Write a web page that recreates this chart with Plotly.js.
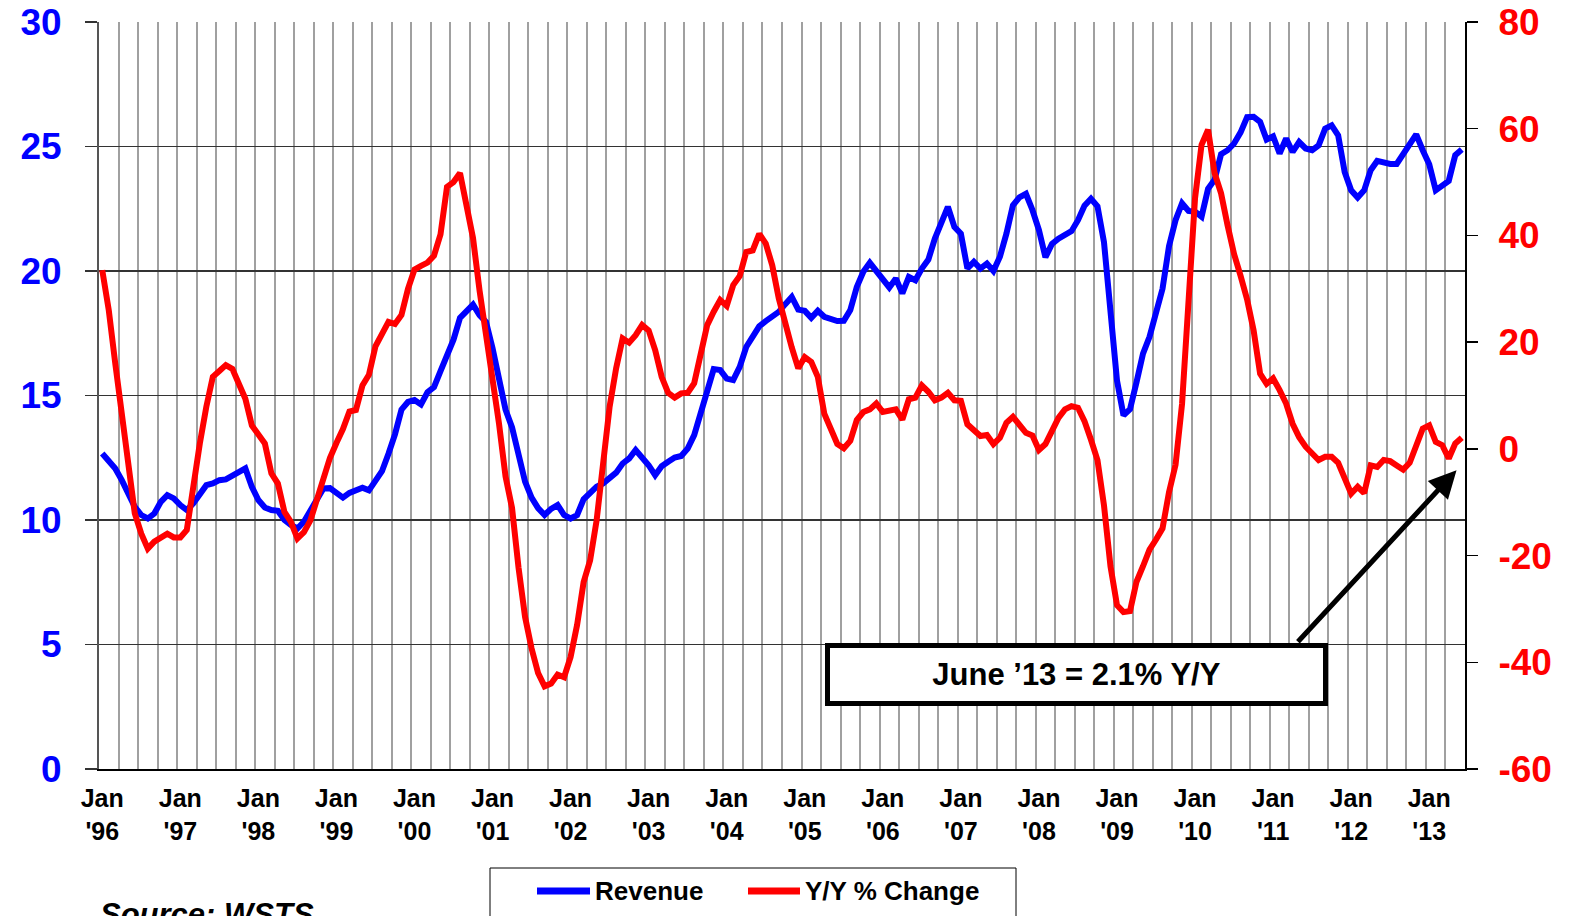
<!DOCTYPE html>
<html>
<head>
<meta charset="utf-8">
<script src="https://cdn.plot.ly/plotly-3.0.1.min.js"></script>
<style>
  html, body { margin: 0; padding: 0; background: #ffffff; }
  #chart { width: 1569px; height: 916px; }
</style>
</head>
<body>
<div id="chart"></div>
<script>
// ---- Data (monthly, Jan 1996 .. Jun 2013) ----
// Worldwide semiconductor revenue, $B (left axis)
const revenue = [
  12.67, 12.34, 12.07, 11.6, 11.07, 10.53, 10.2, 10.06, 10.26, 10.73, 11.0, 10.87,   // 1996
  10.6, 10.4, 10.67, 11.0, 11.4, 11.47, 11.6, 11.63, 11.8, 11.94, 12.07, 11.33,      // 1997
  10.8, 10.5, 10.4, 10.37, 10.0, 9.8, 9.66, 9.93, 10.4, 10.87, 11.27, 11.28,         // 1998
  11.07, 10.9, 11.09, 11.21, 11.3, 11.19, 11.54, 11.96, 12.66, 13.44, 14.43, 14.74,  // 1999
  14.82, 14.64, 15.13, 15.34, 15.98, 16.68, 17.24, 18.12, 18.4, 18.65, 18.23, 17.95, // 2000
  16.9, 15.69, 14.43, 13.72, 12.6, 11.54, 10.9, 10.48, 10.2, 10.45, 10.6, 10.2,      // 2001
  10.06, 10.2, 10.83, 11.07, 11.34, 11.47, 11.71, 11.9, 12.27, 12.47, 12.81, 12.54,  // 2002
  12.2, 11.8, 12.16, 12.34, 12.51, 12.57, 12.87, 13.41, 14.28, 15.28, 16.06, 16.02,  // 2003
  15.68, 15.62, 16.15, 16.95, 17.33, 17.78, 17.99, 18.16, 18.36, 18.67, 18.96, 18.45,// 2004
  18.4, 18.12, 18.4, 18.16, 18.05, 17.99, 18.0, 18.43, 19.36, 19.97, 20.33, 19.97,   // 2005
  19.7, 19.34, 19.7, 19.1, 19.76, 19.63, 20.1, 20.46, 21.3, 21.97, 22.58, 21.77,     // 2006
  21.5, 20.1, 20.37, 20.1, 20.3, 20.0, 20.57, 21.5, 22.64, 22.96, 23.1, 22.45,       // 2007
  21.64, 20.55, 21.09, 21.3, 21.46, 21.6, 22.04, 22.62, 22.9, 22.6, 21.16, 18.18,    // 2008
  15.6, 14.2, 14.45, 15.53, 16.68, 17.36, 18.3, 19.29, 21.0, 22.04, 22.72, 22.41,    // 2009
  22.38, 22.18, 23.3, 23.67, 24.69, 24.85, 25.12, 25.57, 26.18, 26.19, 25.99, 25.28, // 2010
  25.41, 24.72, 25.32, 24.78, 25.18, 24.92, 24.85, 25.05, 25.72, 25.85, 25.45, 23.98,// 2011
  23.24, 22.95, 23.24, 24.05, 24.42, 24.34, 24.3, 24.3, 24.72, 25.18, 25.49, 24.85,  // 2012
  24.29, 23.24, 23.4, 23.62, 24.65, 24.88                                            // 2013
];
// Year-over-year % change (right axis)
const yoyChange = [
  33.5, 26.0, 16.0, 6.0, -3.4, -12.1, -15.9, -18.7, -17.4, -16.5, -15.9, -16.6,      // 1996
  -16.6, -15.2, -6.5, 1.0, 7.9, 13.5, 14.6, 15.7, 15.0, 12.2, 9.4, 4.4,              // 1997
  2.9, 1.0, -4.6, -6.5, -11.8, -13.7, -16.8, -15.6, -13.4, -9.6, -5.2, -1.7,         // 1998
  1.1, 3.7, 7.0, 7.3, 11.9, 13.9, 19.2, 21.5, 23.8, 23.4, 25.1, 30.0,                // 1999
  33.6, 34.3, 34.9, 36.2, 40.2, 49.1, 50.0, 51.7, 45.1, 39.5, 29.7, 21.8,            // 2000
  13.9, 4.7, -5.2, -11.1, -22.3, -31.5, -37.4, -42.0, -44.5, -44.0, -42.3, -42.8,    // 2001
  -39.0, -33.0, -25.0, -20.9, -13.4, -2.8, 7.9, 15.1, 20.7, 19.9, 21.3, 23.2,        // 2002
  22.2, 18.5, 13.5, 10.5, 9.6, 10.4, 10.5, 12.3, 17.2, 23.2, 25.7, 27.9,             // 2003
  26.8, 30.7, 32.4, 36.9, 37.2, 40.3, 38.5, 34.4, 28.2, 23.0, 19.0, 15.1,            // 2004
  17.2, 16.3, 13.5, 6.6, 3.8, 0.9, 0.1, 1.5, 5.4, 6.9, 7.4, 8.5,                     // 2005
  6.9, 7.2, 7.4, 5.5, 9.3, 9.6, 11.9, 10.7, 9.1, 9.6, 10.5, 9.1,                     // 2006
  9.0, 4.6, 3.5, 2.4, 2.6, 0.9, 2.1, 4.9, 6.0, 4.5, 3.0, 2.5,                        // 2007
  -0.2, 0.9, 3.4, 5.8, 7.4, 8.0, 7.7, 5.2, 1.7, -2.1, -10.6, -22.0,                  // 2008
  -29.3, -30.6, -30.4, -24.9, -22.0, -18.9, -17.0, -14.9, -8.1, -3.0, 8.4, 30.0,     // 2009
  47.0, 57.0, 59.8, 51.7, 47.9, 41.9, 36.5, 32.4, 28.0, 22.2, 14.1, 12.2,            // 2010
  13.2, 11.0, 8.5, 4.7, 2.2, 0.4, -0.9, -2.1, -1.5, -1.5, -2.6, -5.3,                // 2011
  -8.4, -7.1, -8.3, -3.1, -3.4, -2.1, -2.3, -3.1, -3.9, -2.6, 0.7, 3.8,              // 2012
  4.4, 1.3, 0.7, -1.8, 1.0, 2.1                                                      // 2013
];
const yearLabels = ["'96","'97","'98","'99","'00","'01","'02","'03","'04","'05",
                    "'06","'07","'08","'09","'10","'11","'12","'13"];
const leftTicks  = [0, 5, 10, 15, 20, 25, 30];
const rightTicks = [-60, -40, -20, 0, 20, 40, 60, 80];
const rightTickText = ["-60", "-40", "-20", "0", "20", "40", "60", "80"];
const seriesNames = ["Revenue", "Y/Y % Change"];
const calloutText = "June \u201913 = 2.1% Y/Y";
const sourceText = "Source: WSTS";

// ---- Layout helpers ----
const W = 1569, H = 916;
const plotL = 99, plotR = 1465, plotT = 22, plotB = 769;
const pxX = X => (X - plotL) / (plotR - plotL);
const pxY = Y => (plotB - Y) / (plotB - plotT);
const FONT = "Liberation Sans, Arial, Helvetica, sans-serif";

const monthIdx = revenue.map((_, i) => i);
const yearTickVals = yearLabels.map((_, k) => k * 12);
const yearTickText = yearLabels.map(y => "Jan<br>" + y);
const xRange = [-0.5, revenue.length - 0.5];

const traces = [
  {
    x: monthIdx, y: revenue, name: seriesNames[0],
    type: "scatter", mode: "lines",
    line: { color: "#0000ff", width: 6 },
    xaxis: "x", yaxis: "y", showlegend: false
  },
  {
    x: monthIdx, y: yoyChange, name: seriesNames[1],
    type: "scatter", mode: "lines",
    line: { color: "#ff0000", width: 6 },
    xaxis: "x2", yaxis: "y2", showlegend: false
  }
];

const lastI = yoyChange.length - 1;
const legY = 891;

const layout = {
  width: W, height: H,
  paper_bgcolor: "#ffffff", plot_bgcolor: "#ffffff",
  margin: { l: plotL, r: W - plotR, t: plotT, b: H - plotB, autoexpand: false },
  showlegend: false,
  font: { family: FONT, color: "#000000" },
  xaxis: {
    range: xRange, tickmode: "linear", tick0: -0.5, dtick: 3,
    showticklabels: false, ticks: "",
    showgrid: true, gridcolor: "#a0a0a0", gridwidth: 2,
    showline: true, linecolor: "#000000", linewidth: 1.5,
    zeroline: false, fixedrange: true
  },
  xaxis2: {
    range: xRange, overlaying: "x", anchor: "y2", side: "bottom",
    tickmode: "array", tickvals: yearTickVals, ticktext: yearTickText,
    ticks: "", showgrid: false, showline: false, zeroline: false,
    tickfont: { family: FONT, size: 25, color: "#000000", weight: "bold" },
    ticklabelstandoff: 12, fixedrange: true
  },
  yaxis: {
    range: [0, 30], tickmode: "array", tickvals: leftTicks,
    ticks: "outside", ticklen: 12, tickwidth: 1.5, tickcolor: "#333333",
    showgrid: true, gridcolor: "#333333", gridwidth: 1.5,
    showline: true, linecolor: "#555555", linewidth: 2,
    zeroline: false,
    tickfont: { family: FONT, size: 37, color: "#0000ff", weight: "bold" },
    ticklabelstandoff: 16, fixedrange: true
  },
  yaxis2: {
    range: [-60, 80], overlaying: "y", anchor: "x2", side: "right",
    tickmode: "array", tickvals: rightTicks, ticktext: rightTickText,
    ticks: "outside", ticklen: 11, tickwidth: 1.5, tickcolor: "#000000",
    showgrid: false, showline: true, linecolor: "#000000", linewidth: 2,
    zeroline: false,
    tickfont: { family: FONT, size: 37, color: "#ff0000", weight: "bold" },
    ticklabelstandoff: 13, fixedrange: true
  },
  shapes: [
    // legend frame
    { type: "rect", xref: "paper", yref: "paper",
      x0: pxX(490), x1: pxX(1016), y0: pxY(868), y1: pxY(940),
      line: { color: "#000000", width: 1 }, fillcolor: "#ffffff" },
    { type: "line", xref: "paper", yref: "paper",
      x0: pxX(537), x1: pxX(590), y0: pxY(legY), y1: pxY(legY),
      line: { color: "#0000ff", width: 7 } },
    { type: "line", xref: "paper", yref: "paper",
      x0: pxX(748), x1: pxX(800), y0: pxY(legY), y1: pxY(legY),
      line: { color: "#ff0000", width: 7 } }
  ],
  annotations: [
    { text: seriesNames[0], xref: "paper", yref: "paper",
      x: pxX(593), y: pxY(legY), xanchor: "left", yanchor: "middle", showarrow: false,
      font: { family: FONT, size: 26, color: "#000000", weight: "bold" } },
    { text: seriesNames[1], xref: "paper", yref: "paper",
      x: pxX(803), y: pxY(legY), xanchor: "left", yanchor: "middle", showarrow: false,
      font: { family: FONT, size: 26, color: "#000000", weight: "bold" } },
    { text: sourceText, xref: "paper", yref: "paper",
      x: pxX(98), y: pxY(914), xanchor: "left", yanchor: "middle", showarrow: false,
      font: { family: FONT, size: 31, color: "#000000", weight: "bold", style: "italic" } },
    { text: calloutText, xref: "paper", yref: "paper",
      x: pxX(1076.5), y: pxY(674.5), xanchor: "center", yanchor: "middle", showarrow: false,
      width: 493, height: 53, align: "center", valign: "middle",
      bgcolor: "#ffffff", bordercolor: "#000000", borderwidth: 5, borderpad: 0,
      font: { family: FONT, size: 31, color: "#000000", weight: "bold" } },
    { text: "", xref: "x2", yref: "y2",
      x: lastI - 0.8, y: yoyChange[lastI] - 6.1,
      ax: -160, ay: 173, showarrow: true,
      arrowhead: 2, arrowsize: 1.1, arrowwidth: 5, arrowcolor: "#000000" }
  ]
};

Plotly.newPlot("chart", traces, layout, { staticPlot: true, displayModeBar: false });
</script>
</body>
</html>
